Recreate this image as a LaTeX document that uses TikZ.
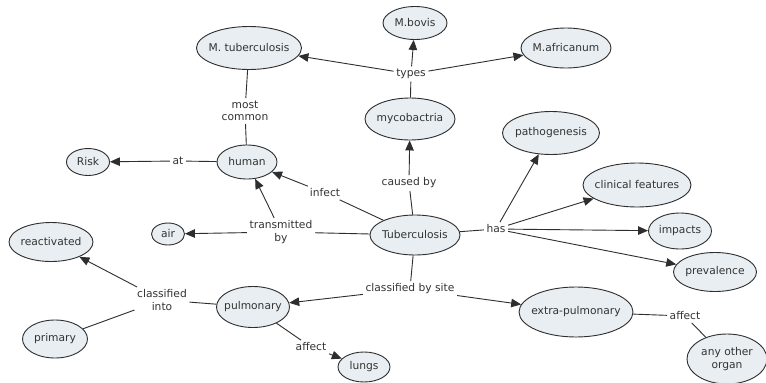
\documentclass[tikz,border=0pt]{standalone}
\usepackage{fontspec}
\setmainfont{DejaVu Sans}
\usetikzlibrary{shapes.geometric,arrows.meta}
\definecolor{nodefill}{HTML}{E8EEF2}
\definecolor{edgecol}{HTML}{2E2E2E}
\definecolor{textcol}{HTML}{333333}
\tikzset{
  concept/.style={ellipse, draw=edgecol, fill=nodefill, line width=0.9pt,
    inner xsep=-6pt, inner ysep=0pt, text=textcol, align=center,
    font=\fontsize{10.7}{12.5}\selectfont},
  linkword/.style={inner sep=2.5pt, text=textcol, align=center,
    font=\fontsize{10.7}{12.5}\selectfont},
  arr/.style={draw=edgecol, line width=0.9pt, -{Triangle[length=10pt,width=8.5pt]}},
  ln/.style={draw=edgecol, line width=0.9pt},
  sz/.style 2 args={minimum width=#1pt, minimum height=#2pt}
}
\begin{document}
\begin{tikzpicture}[x=1pt,y=-1pt]
\useasboundingbox (0,0) rectangle (766,383);
\fill[white] (0,0) rectangle (766,383);

% concepts
\node[concept, sz={105}{43}] (mtb)    at (249,48)  {M. tuberculosis};
\node[concept, sz={64}{33}]  (bovis)  at (415,23)  {M.bovis};
\node[concept, sz={90}{40}]  (afr)    at (566,48)  {M.africanum};
\node[concept, sz={90}{42}]  (myco)   at (410,119) {mycobactria};
\node[concept, sz={97}{43}]  (patho)  at (551,133) {pathogenesis};
\node[concept, sz={108}{44}] (clin)   at (637,185) {clinical features};
\node[concept, sz={63}{36}]  (imp)    at (680,231) {impacts};
\node[concept, sz={83}{39}]  (prev)   at (715,272) {prevalence};
\node[concept, sz={90}{40}]  (tb)     at (415,235) {Tuberculosis};
\node[concept, sz={114}{50}] (extra)  at (576,312) {extra-pulmonary};
\node[concept, sz={80}{50}]  (organ)  at (727,359) {any other\\organ};
\node[concept, sz={60}{34}]  (human)  at (247,162) {human};
\node[concept, sz={43}{27}]  (risk)   at (88,162)  {Risk};
\node[concept, sz={33}{22}]  (air)    at (168,234) {air};
\node[concept, sz={84}{39}]  (react)  at (51,242)  {reactivated};
\node[concept, sz={65}{38}]  (prim)   at (55,339)  {primary};
\node[concept, sz={73}{41}]  (pulm)   at (253,307) {pulmonary};
\node[concept, sz={52}{30}]  (lungs)  at (364,367) {lungs};

% linking phrases
\node[linkword] (types)   at (411,74)  {types};
\node[linkword] (common)  at (245,111) {most\\common};
\node[linkword] (at)      at (178,161) {at};
\node[linkword] (infect)  at (325,193) {infect};
\node[linkword] (caused)  at (409,183) {caused by};
\node[linkword] (trans)   at (281,232) {transmitted\\by};
\node[linkword] (has)     at (496,229) {has};
\node[linkword] (bysite)  at (410,289) {classified by site};
\node[linkword] (into)    at (162,300) {classified\\into};
\node[linkword] (aff1)    at (311,347) {affect};
\node[linkword] (aff2)    at (685,316) {affect};

% connectors
\draw[ln]  (myco) -- (types);
\draw[arr] (types) -- (bovis);
\draw[arr] (types) -- (mtb);
\draw[arr] (types) -- (afr);

\draw[ln]  (mtb) -- (common);
\draw[ln]  (common) -- (human);
\draw[ln]  (human) -- (at);
\draw[arr] (at) -- (risk);

\draw[ln]  (tb) -- (caused);
\draw[arr] (caused) -- (myco);
\draw[ln]  (tb) -- (infect);
\draw[arr] (infect) -- (human);

\draw[ln]  (tb) -- (trans);
\draw[arr] (trans) -- (air);
\draw[arr] (trans) -- (human);

\draw[ln]  (tb) -- (has);
\draw[arr] (has) -- (patho);
\draw[arr] (has) -- (clin);
\draw[arr] (has) -- (imp);
\draw[arr] (has) -- (prev);

\draw[ln]  (tb) -- (bysite);
\draw[arr] (bysite) -- (pulm);
\draw[arr] (bysite) -- (extra);

\draw[ln]  (pulm) -- (into);
\draw[arr] (into) -- (react);
\draw[ln]  (into) -- (prim);

\draw[ln]  (pulm) -- (aff1);
\draw[arr] (aff1) -- (lungs);

\draw[ln]  (extra) -- (aff2);
\draw[ln]  (aff2) -- (organ);
\end{tikzpicture}
\end{document}
